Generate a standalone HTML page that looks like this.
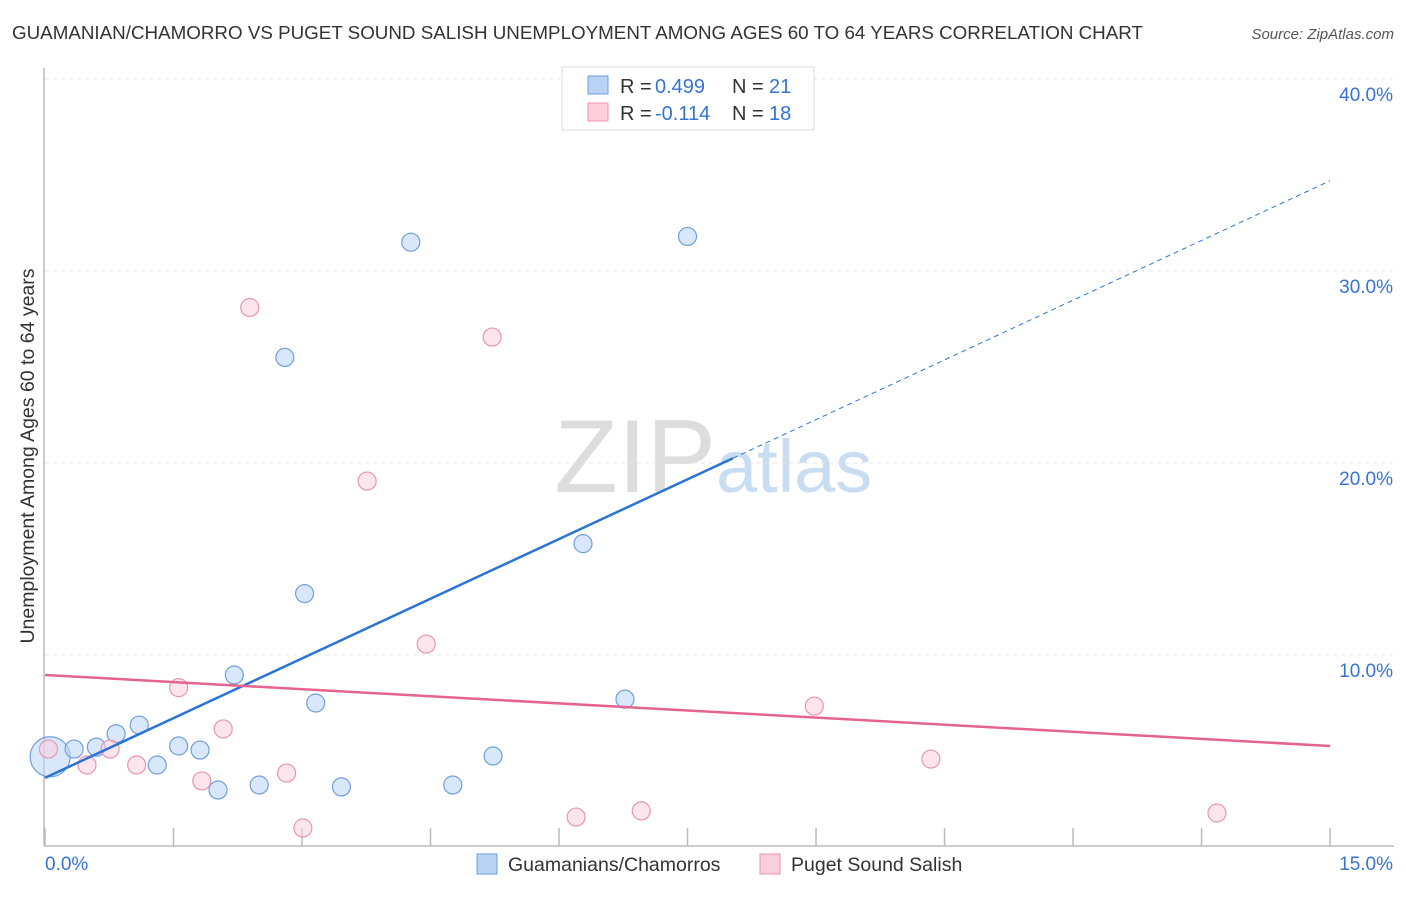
<!DOCTYPE html>
<html><head><meta charset="utf-8"><style>
body{margin:0;background:#fff;font-family:"Liberation Sans",sans-serif}
svg text{font-family:"Liberation Sans",sans-serif}
</style></head><body>
<svg id="c" width="1406" height="892">
<text x="12" y="39" font-size="18.8" fill="#333">GUAMANIAN/CHAMORRO VS PUGET SOUND SALISH UNEMPLOYMENT AMONG AGES 60 TO 64 YEARS CORRELATION CHART</text>
<text x="1394" y="39" font-size="15" fill="#555" font-style="italic" text-anchor="end">Source: ZipAtlas.com</text>
<text x="716" y="492" font-size="104" fill="#ddd" text-anchor="end" font-family="Liberation Serif">ZIP</text>
<text x="716" y="492" font-size="74" fill="#c8dcf2">atlas</text>
<text transform="translate(34,456) rotate(-90)" font-size="19.5" fill="#333" text-anchor="middle">Unemployment Among Ages 60 to 64 years</text>
<g id="grid"></g><g id="marks"></g>
<g>
<rect x="562" y="67" width="252" height="63" fill="#fff" stroke="#ddd"/>
<rect x="588" y="76" width="20" height="18" fill="#b9d3f5" stroke="#6f9fdc"/>
<rect x="588" y="103" width="20" height="18" fill="#fbcfdc" stroke="#e896b0"/>
<text x="620" y="93" font-size="20" fill="#333">R =</text>
<text x="655" y="93" font-size="20" fill="#3574d4">0.499</text>
<text x="732" y="93" font-size="20" fill="#333">N =</text>
<text x="769" y="93" font-size="20" fill="#3574d4">21</text>
<text x="620" y="120" font-size="20" fill="#333">R =</text>
<text x="655" y="120" font-size="20" fill="#3574d4">-0.114</text>
<text x="732" y="120" font-size="20" fill="#333">N =</text>
<text x="769" y="120" font-size="20" fill="#3574d4">18</text>
</g>
<g>
<rect x="477" y="854" width="20" height="20" fill="#b9d3f5" stroke="#6f9fdc"/>
<text x="508" y="871" font-size="19.5" fill="#333">Guamanians/Chamorros</text>
<rect x="760" y="854" width="20" height="20" fill="#fbcfdc" stroke="#e896b0"/>
<text x="791" y="871" font-size="19.5" fill="#333">Puget Sound Salish</text>
</g>
</svg>
<script>
const blueX=[0.06,0.34,0.6,0.83,1.1,1.31,1.56,1.81,2.02,2.21,2.5,2.8,3.03,3.16,3.46,4.27,4.76,5.23,6.28,6.77,7.5];
const blueY=[4.7,5.1,5.2,5.9,6.35,4.27,5.26,5.05,2.97,8.96,3.23,25.5,13.2,7.5,3.13,31.5,3.23,4.74,15.8,7.7,31.8];
const pinkX=[0.04,0.49,0.76,1.07,1.56,1.83,2.08,2.39,2.82,3.01,3.76,4.45,5.22,6.2,6.96,8.98,10.34,13.68];
const pinkY=[5.1,4.27,5.1,4.27,8.3,3.44,6.15,28.1,3.85,0.99,19.06,10.57,26.56,1.56,1.88,7.34,4.58,1.77];
const blueLine=[3.6,34.7]; const blueSolidEnd=8.03;
const pinkLine=[8.96,5.26];
const yTicks=[10,20,30,40]; const yLabels=["10.0%","20.0%","30.0%","40.0%"];
const xTicks=[0,1.5,3,4.5,6,7.5,9,10.5,12,13.5,15];
const X=v=>45+v*85.67, Y=v=>847-v*19.2;
const NS="http://www.w3.org/2000/svg";
function mk(t,a,p){const e=document.createElementNS(NS,t);for(const k in a)e.setAttribute(k,a[k]);p.appendChild(e);return e;}
const g=document.getElementById('grid'), m=document.getElementById('marks');
yTicks.forEach((t,i)=>{
 const l=mk('line',{x1:45,x2:1394,y1:Y(t),y2:Y(t),stroke:'#e4e4e4','stroke-dasharray':'4,4'},g);
 
 
 const tx=mk('text',{x:1393,y:Y(t)+22,'font-size':19,fill:'#3574d4','text-anchor':'end'},g);
 tx.textContent=yLabels[i];
 
 
});
const ax=mk('line',{x1:44,x2:44,y1:68,y2:846,stroke:'#bbb','stroke-width':1.5},g);


const bx=mk('line',{x1:44,x2:1394,y1:846,y2:846,stroke:'#bbb','stroke-width':1.5},g);


xTicks.forEach(t=>{const l=mk('line',{x1:X(t),x2:X(t),y1:828,y2:846,stroke:'#bbb','stroke-width':1.5},g);
 
 });
const t0=mk('text',{x:45,y:870,'font-size':19,fill:'#3574d4'},g);t0.textContent="0.0%";


const t1=mk('text',{x:1393,y:870,'font-size':19,fill:'#3574d4','text-anchor':'end'},g);t1.textContent="15.0%";


function pts(xs,ys,fill,stroke,name){xs.forEach((x,i)=>{const c=mk('circle',{cx:X(x),cy:Y(ys[i]),r:(i==0&&name=='blue-point')?20:9,fill:fill,'fill-opacity':0.55,stroke:stroke,'stroke-width':1.2},m);
 
 });}
pts(blueX,blueY,'#b9d3f5','#6f9fdc','blue-point');
pts(pinkX,pinkY,'#fbcfdc','#e896b0','pink-point');
const by=x=>blueLine[0]+(blueLine[1]-blueLine[0])*x/15;
const l1=mk('line',{x1:X(0),y1:Y(blueLine[0]),x2:X(blueSolidEnd),y2:Y(by(blueSolidEnd)),stroke:'#2a74d6','stroke-width':2.5},m);


const l2=mk('line',{x1:X(blueSolidEnd),y1:Y(by(blueSolidEnd)),x2:X(15),y2:Y(blueLine[1]),stroke:'#2a74d6','stroke-width':1,'stroke-dasharray':'5,4'},m);


const l3=mk('line',{x1:X(0),y1:Y(pinkLine[0]),x2:X(15),y2:Y(pinkLine[1]),stroke:'#e4648f','stroke-width':2.5},m);


</script>
</body></html>
